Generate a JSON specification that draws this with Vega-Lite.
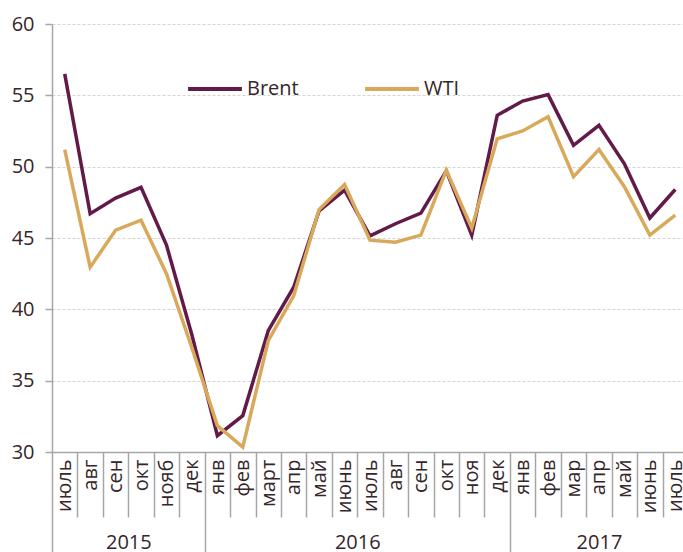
{
  "$schema": "https://vega.github.io/schema/vega-lite/v6.json",
  "autosize": "none",
  "width": 636,
  "height": 428,
  "padding": {"left": 52, "top": 24, "right": 0, "bottom": 100},
  "background": "white",
  "config": {
    "font": "Open Sans",
    "view": {"stroke": null},
    "axis": {"labelColor": "#352629", "labelFontSize": 20, "domainColor": "#a6a6a6", "tickColor": "#a6a6a6", "domainWidth": 1.5, "tickWidth": 1.5}
  },
  "datasets": {
    "prices": [
      {"i": 0, "series": "Brent", "price": 56.5}, {"i": 1, "series": "Brent", "price": 46.7}, {"i": 2, "series": "Brent", "price": 47.8},
      {"i": 3, "series": "Brent", "price": 48.55}, {"i": 4, "series": "Brent", "price": 44.5}, {"i": 5, "series": "Brent", "price": 38.2},
      {"i": 6, "series": "Brent", "price": 31.15}, {"i": 7, "series": "Brent", "price": 32.55}, {"i": 8, "series": "Brent", "price": 38.5},
      {"i": 9, "series": "Brent", "price": 41.55}, {"i": 10, "series": "Brent", "price": 46.9}, {"i": 11, "series": "Brent", "price": 48.35},
      {"i": 12, "series": "Brent", "price": 45.15}, {"i": 13, "series": "Brent", "price": 46.0}, {"i": 14, "series": "Brent", "price": 46.75},
      {"i": 15, "series": "Brent", "price": 49.7}, {"i": 16, "series": "Brent", "price": 45.2}, {"i": 17, "series": "Brent", "price": 53.6},
      {"i": 18, "series": "Brent", "price": 54.6}, {"i": 19, "series": "Brent", "price": 55.05}, {"i": 20, "series": "Brent", "price": 51.5},
      {"i": 21, "series": "Brent", "price": 52.9}, {"i": 22, "series": "Brent", "price": 50.2}, {"i": 23, "series": "Brent", "price": 46.4},
      {"i": 24, "series": "Brent", "price": 48.4},
      {"i": 0, "series": "WTI", "price": 51.2}, {"i": 1, "series": "WTI", "price": 42.95}, {"i": 2, "series": "WTI", "price": 45.55},
      {"i": 3, "series": "WTI", "price": 46.25}, {"i": 4, "series": "WTI", "price": 42.5}, {"i": 5, "series": "WTI", "price": 37.3},
      {"i": 6, "series": "WTI", "price": 31.85}, {"i": 7, "series": "WTI", "price": 30.35}, {"i": 8, "series": "WTI", "price": 37.8},
      {"i": 9, "series": "WTI", "price": 40.95}, {"i": 10, "series": "WTI", "price": 47.0}, {"i": 11, "series": "WTI", "price": 48.75},
      {"i": 12, "series": "WTI", "price": 44.85}, {"i": 13, "series": "WTI", "price": 44.7}, {"i": 14, "series": "WTI", "price": 45.2},
      {"i": 15, "series": "WTI", "price": 49.75}, {"i": 16, "series": "WTI", "price": 45.7}, {"i": 17, "series": "WTI", "price": 51.95},
      {"i": 18, "series": "WTI", "price": 52.5}, {"i": 19, "series": "WTI", "price": 53.5}, {"i": 20, "series": "WTI", "price": 49.3},
      {"i": 21, "series": "WTI", "price": 51.2}, {"i": 22, "series": "WTI", "price": 48.6}, {"i": 23, "series": "WTI", "price": 45.2},
      {"i": 24, "series": "WTI", "price": 46.6}
    ]
  },
  "layer": [
    {
      "data": {"name": "prices"},
      "mark": {"type": "line", "strokeWidth": 3.5, "strokeJoin": "miter"},
      "encoding": {
        "x": {
          "field": "i", "type": "quantitative",
          "scale": {"domain": [-0.5, 24.5], "nice": false, "zero": false},
          "axis": {
            "orient": "bottom", "title": null, "grid": false, "ticks": false, "labelAngle": -90, "labelPadding": 7,
            "labelFlush": false, "labelBound": false, "labelOverlap": false,
            "values": [0,1,2,3,4,5,6,7,8,9,10,11,12,13,14,15,16,17,18,19,20,21,22,23,24],
            "labelExpr": "['июль','авг','сен','окт','нояб','дек','янв','фев','март','апр','май','июнь','июль','авг','сен','окт','ноя','дек','янв','фев','мар','апр','май','июнь','июль'][datum.value]"
          }
        },
        "y": {
          "field": "price", "type": "quantitative",
          "scale": {"domain": [30, 60], "nice": false, "zero": false},
          "axis": {
            "title": null, "values": [30, 35, 40, 45, 50, 55, 60], "tickSize": 7, "labelPadding": 11,
            "grid": true, "gridColor": "#d4d4d4", "gridDash": [3, 2], "gridWidth": 1
          }
        },
        "color": {
          "field": "series", "type": "nominal",
          "scale": {"domain": ["Brent", "WTI"], "range": ["#621a48", "#d9a95b"]},
          "legend": {
            "title": null, "orient": "none", "legendX": 134, "legendY": 36, "direction": "horizontal",
            "symbolType": "stroke", "symbolSize": 2900, "symbolStrokeWidth": 4, "labelFontSize": 20,
            "labelColor": "#352629", "labelOffset": 3, "columnPadding": 58
          }
        }
      }
    },
    {
      "data": {"values": []},
      "mark": {"type": "point"},
      "encoding": {
        "x": {
          "field": "i", "type": "quantitative",
          "axis": {
            "orient": "bottom", "title": null, "grid": false, "domain": false, "labels": false, "tickSize": 65,
            "values": [0.5,1.5,2.5,3.5,4.5,6.5,7.5,8.5,9.5,10.5,11.5,12.5,13.5,14.5,15.5,16.5,18.5,19.5,20.5,21.5,22.5,23.5]
          }
        }
      }
    },
    {
      "data": {"values": []},
      "mark": {"type": "point"},
      "encoding": {
        "x": {
          "field": "i", "type": "quantitative",
          "axis": {
            "orient": "bottom", "title": null, "grid": false, "domain": false, "labels": false, "tickSize": 100,
            "values": [-0.5, 5.5, 17.5, 24.5]
          }
        }
      }
    },
    {
      "data": {"values": []},
      "mark": {"type": "point"},
      "encoding": {
        "x": {
          "field": "i", "type": "quantitative",
          "axis": {
            "orient": "bottom", "title": null, "grid": false, "domain": false, "ticks": false, "labelPadding": 80,
            "labelFlush": false, "labelBound": false, "labelOverlap": false,
            "values": [2.5, 11.5, 21],
            "labelExpr": "datum.value == 2.5 ? '2015' : datum.value == 11.5 ? '2016' : '2017'"
          }
        }
      }
    }
  ],
  "resolve": {"scale": {"x": "shared"}, "axis": {"x": "independent"}}
}
